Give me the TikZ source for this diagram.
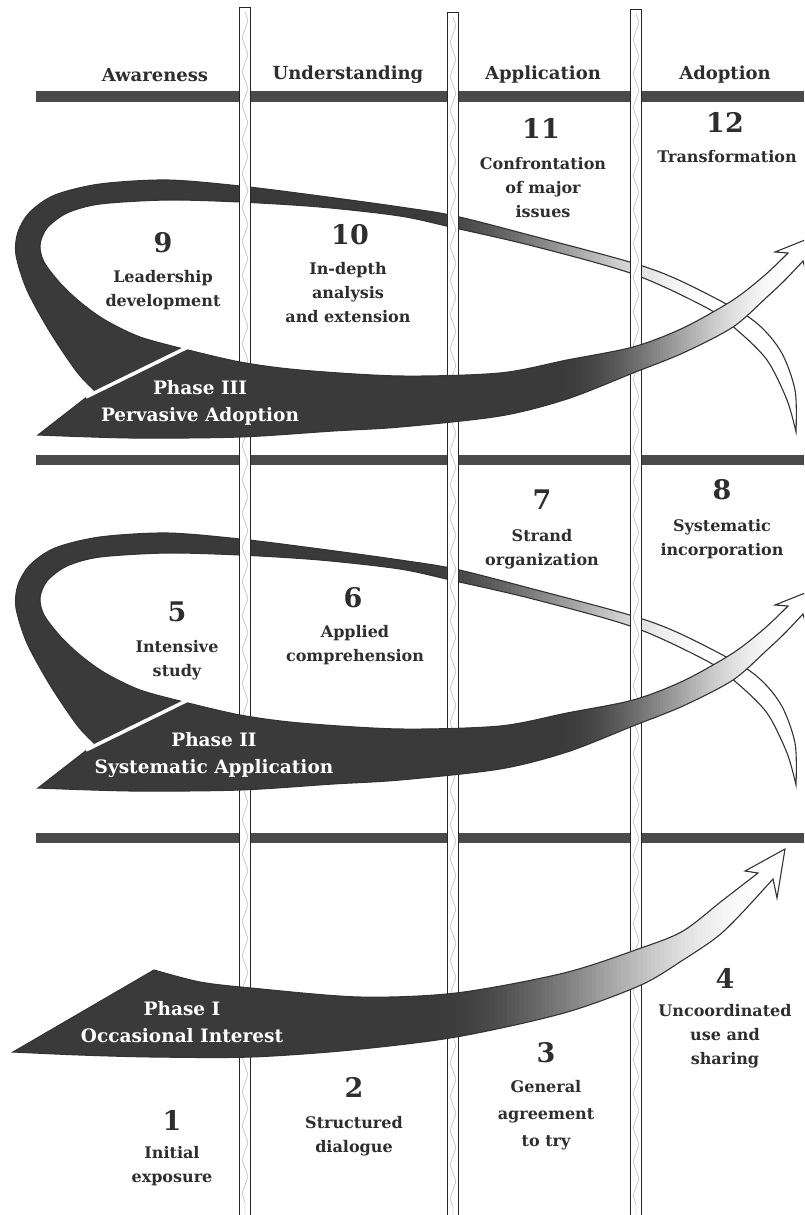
\documentclass[tikz,border=0pt]{standalone}
\usepackage{fontspec}
\setmainfont{DejaVu Serif}
\usetikzlibrary{decorations.pathmorphing}
\definecolor{armdark}{HTML}{3A3A3A}
\definecolor{bardark}{HTML}{4A4A4A}
\definecolor{txt}{HTML}{2E2E2E}

% loop ribbon of phase III (phase II is the same, shifted)
\newcommand\PathLoop{plot[smooth] coordinates {(95,391) (77,372) (50,332) (27,290) (16,255) (18,232) (30,212) (55,195) (100,184) (167,180) (240,186) (320,196) (400,207) (455,216) (533,236) (633,263) (683,282) (750,318) (780,350) (795,390) (796,432)} -- plot[smooth] coordinates {(796,432) (787,400) (767,360) (737,330) (707,308) (633,274) (533,246) (455,228) (400,216) (320,207) (240,202) (167,200) (100,204) (67,213) (47,228) (40,245) (44,262) (60,283) (80,302) (105,320) (140,337) (184,349)} -- cycle}
% main arrow of phase III
\newcommand\PathMain{(38,435) -- (92,393) -- (184,349) -- plot[smooth] coordinates {(184,349) (240,362) (300,370) (400,376) (500,373) (567,360) (633,347) (683,328) (733,300) (765,275) (788,253)} -- (775,252) -- (815,236) -- (808,279) -- (803,261) -- plot[smooth] coordinates {(803,261) (785,280) (767,297) (733,327) (683,353) (633,373) (567,399) (500,416) (400,427) (333,431) (240,437) (133,438) (38,435)} -- cycle}
% main arrow of phase I
\newcommand\PathOne{(13,1052) -- (154,970) -- plot[smooth] coordinates {(154,970) (200,982) (251,988) (359,997) (456,993) (564,973) (641,948) (683,931) (723,900) (758,873)} -- (745,871) -- (785,849) -- (777,898) -- (773,879) -- plot[smooth] coordinates {(773,879) (740,915) (717,937) (683,960) (641,985) (564,1013) (456,1037) (351,1050) (251,1057) (154,1057) (80,1055) (13,1052)} -- cycle}

% smooth horizontal fade from dark (left of #1) to white (right of #2), between heights #3 and #4
\newcommand\GradStripes[4]{%
  \fill[armdark] (0,#3) rectangle (#1+0.6,#4);
  \pgfmathsetmacro\stripew{(#2-#1)/80}
  \foreach \k in {0,...,79} {
    \pgfmathsetmacro\xa{#1+\k*\stripew}
    \pgfmathsetmacro\xb{\xa+\stripew+0.6}
    \pgfmathsetmacro\tfrac{(\k+0.5)/80}
    \pgfmathsetmacro\pc{100*(1-3*\tfrac*\tfrac+2*\tfrac*\tfrac*\tfrac)}
    \fill[armdark!\pc!white] (\xa,#3) rectangle (\xb,#4);
  }
  \fill[white] (#2,#3) rectangle (830,#4);
}

\tikzset{
  armline/.style={draw=black!80, line width=1.1pt},
  hbar/.style={fill=bardark},
  pole/.style={fill=white, draw=black!85, line width=1pt},
  polezig/.style={draw=black!35, line width=0.4pt, decorate, decoration={zigzag, segment length=34pt, amplitude=3pt}},
  cutline/.style={draw=white, line width=3.5pt},
  hdr/.style={font=\fontsize{18}{20}\selectfont\bfseries, text=txt},
  num/.style={font=\fontsize{27}{30}\selectfont\bfseries, text=txt},
  lab/.style={font=\fontsize{16}{24}\selectfont\bfseries, text=txt, align=center},
  phase/.style={font=\fontsize{18.5}{27}\selectfont\bfseries, text=white, align=center}
}

\begin{document}
\begin{tikzpicture}[x=1pt, y=-1pt]
\useasboundingbox (0,0) rectangle (804,1215);
\clip (0,0) rectangle (804,1215);
\fill[white] (0,0) rectangle (804,1215);

% horizontal bars
\fill[hbar] (36,91) rectangle (804,102);
\fill[hbar] (36,455) rectangle (804,465);
\fill[hbar] (36,833) rectangle (804,843);

% loops (under the poles)
\foreach \dy in {0,353} {
\begin{scope}[shift={(0,\dy)}]
  \begin{scope}
    \clip \PathLoop;
    \GradStripes{410}{720}{150}{460}
  \end{scope}
  \draw[armline] \PathLoop;
\end{scope}
}

% poles
\foreach \px/\pt in {245/8, 453/13, 636/10} {
  \filldraw[pole] (\px-5.5,\pt) rectangle (\px+5.5,1225);
  \draw[polezig] (\px,\pt+4) -- (\px,1215);
}

% main arrows of phases III and II
\foreach \dy in {0,353} {
\begin{scope}[shift={(0,\dy)}]
  \begin{scope}
    \clip \PathMain;
    \GradStripes{555}{795}{220}{450}
  \end{scope}
  \draw[armline] \PathMain;
  \draw[cutline] (86,397) -- (192,345);
\end{scope}
}

% main arrow of phase I
\begin{scope}
  \clip \PathOne;
  \GradStripes{430}{770}{830}{1070}
\end{scope}
\draw[armline] \PathOne;

% headers
\node[hdr] (hA) at (155,75) {Awareness};
\node[hdr] (hU) at (348,75) {Understanding};
\node[hdr] (hP) at (543,75) {Application};
\node[hdr] (hD) at (725,75) {Adoption};

% phase III
\node[num] (n11) at (541,128) {11};
\node[lab] (l11) at (543,188) {Confrontation\\of major\\issues};
\node[num] (n12) at (725,122) {12};
\node[lab] (l12) at (727,157) {Transformation};
\node[num] (n9) at (163,243) {9};
\node[lab] (l9) at (163,290) {Leadership\\development};
\node[num] (n10) at (350,235) {10};
\node[lab] (l10) at (348,293) {In-depth\\analysis\\and extension};
\node[phase] (p3) at (200,403) {Phase III\\Pervasive Adoption};

% phase II
\node[num] (n7) at (542,500) {7};
\node[lab] (l7) at (542,549) {Strand\\organization};
\node[num] (n8) at (722,490) {8};
\node[lab] (l8) at (722,539) {Systematic\\incorporation};
\node[num] (n5) at (177,612) {5};
\node[lab] (l5) at (177,660) {Intensive\\study};
\node[num] (n6) at (353,598) {6};
\node[lab] (l6) at (355,645) {Applied\\comprehension};
\node[phase] (p2) at (214,755) {Phase II\\Systematic Application};

% phase I
\node[num] (n4) at (725,978) {4};
\node[lab] (l4) at (725,1036) {Uncoordinated\\use and\\sharing};
\node[num] (n3) at (546,1053) {3};
\node[lab, font=\fontsize{16}{27}\selectfont\bfseries] (l3) at (546,1115) {General\\agreement\\to try};
\node[num] (n2) at (354,1087) {2};
\node[lab] (l2) at (354,1136) {Structured\\dialogue};
\node[num] (n1) at (172,1120) {1};
\node[lab] (l1) at (172,1166) {Initial\\exposure};
\node[phase] (p1) at (182,1022) {Phase I\\Occasional Interest};
\end{tikzpicture}
\end{document}
